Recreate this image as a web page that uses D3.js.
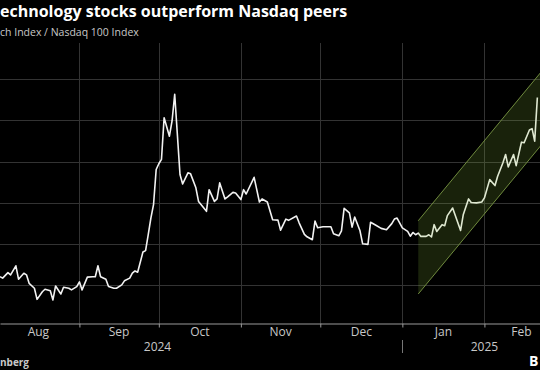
<!DOCTYPE html>
<html>
<head>
<meta charset="utf-8">
<script src="https://cdn.jsdelivr.net/npm/d3@7"></script>
<style>
  html, body { margin: 0; padding: 0; background: #000; }
  svg { display: block; }
</style>
</head>
<body>
<div id="chart"></div>
<script>
// text as it shows in the cropped picture
var title = "echnology stocks outperform Nasdaq peers";
var subtitle = "ch Index / Nasdaq 100 Index";
var source = "nberg";
var logo = "B";

// Hang Seng Tech / Nasdaq 100 ratio
var dates = [
  "2024-08-02","2024-08-03","2024-08-05","2024-08-06","2024-08-08","2024-08-09","2024-08-11","2024-08-12",
  "2024-08-13","2024-08-15","2024-08-16","2024-08-18","2024-08-19","2024-08-21","2024-08-22","2024-08-23",
  "2024-08-25","2024-08-26","2024-08-28","2024-08-29","2024-08-31","2024-09-01","2024-09-02","2024-09-04",
  "2024-09-06","2024-09-07","2024-09-08","2024-09-09","2024-09-11","2024-09-12","2024-09-14","2024-09-15",
  "2024-09-17","2024-09-18","2024-09-20","2024-09-21","2024-09-22","2024-09-23","2024-09-25","2024-09-26",
  "2024-09-27","2024-09-28","2024-09-29","2024-09-30","2024-10-01","2024-10-02","2024-10-03","2024-10-05",
  "2024-10-06","2024-10-07","2024-10-09","2024-10-10","2024-10-12","2024-10-13","2024-10-15","2024-10-16",
  "2024-10-19","2024-10-20","2024-10-22","2024-10-23","2024-10-24","2024-10-26","2024-10-27","2024-10-29",
  "2024-10-30","2024-11-01","2024-11-02","2024-11-03","2024-11-06","2024-11-08","2024-11-09","2024-11-11",
  "2024-11-13","2024-11-15","2024-11-16","2024-11-18","2024-11-19","2024-11-22","2024-11-23","2024-11-25",
  "2024-11-26","2024-11-28","2024-11-29","2024-11-30","2024-12-02","2024-12-05","2024-12-06","2024-12-08",
  "2024-12-09","2024-12-10","2024-12-12","2024-12-13","2024-12-14","2024-12-16","2024-12-17","2024-12-19",
  "2024-12-20","2024-12-22","2024-12-24","2024-12-26","2024-12-28","2024-12-29","2024-12-30","2025-01-01",
  "2025-01-03","2025-01-04","2025-01-05","2025-01-06","2025-01-07","2025-01-08","2025-01-10","2025-01-11",
  "2025-01-12","2025-01-13","2025-01-14","2025-01-16","2025-01-17","2025-01-18","2025-01-20","2025-01-22",
  "2025-01-23","2025-01-24","2025-01-26","2025-01-27","2025-01-29","2025-01-31","2025-02-01","2025-02-03",
  "2025-02-05","2025-02-06","2025-02-08","2025-02-09","2025-02-10","2025-02-12","2025-02-13","2025-02-15",
  "2025-02-16","2025-02-18","2025-02-19","2025-02-20","2025-02-21"
];
var ratio = [
  0.1640,0.1633,0.1660,0.1649,0.1693,0.1628,0.1657,0.1649,
  0.1608,0.1584,0.1530,0.1567,0.1579,0.1572,0.1527,0.1595,
  0.1556,0.1589,0.1584,0.1576,0.1592,0.1615,0.1576,0.1638,
  0.1640,0.1640,0.1693,0.1640,0.1628,0.1592,0.1584,0.1584,
  0.1600,0.1620,0.1633,0.1657,0.1668,0.1662,0.1760,0.1767,
  0.1844,0.1925,0.1990,0.2161,0.2189,0.2210,0.2413,0.2323,
  0.2397,0.2527,0.2137,0.2091,0.2145,0.2140,0.2072,0.2006,
  0.1958,0.2063,0.2006,0.2018,0.2096,0.2018,0.2028,0.2050,
  0.2047,0.2015,0.2063,0.2042,0.2123,0.2003,0.2018,0.2003,
  0.1917,0.1915,0.1866,0.1920,0.1914,0.1935,0.1902,0.1846,
  0.1834,0.1820,0.1910,0.1878,0.1883,0.1883,0.1849,0.1839,
  0.1863,0.1972,0.1950,0.1881,0.1930,0.1863,0.1800,0.1797,
  0.1905,0.1890,0.1875,0.1868,0.1898,0.1920,0.1925,0.1877,
  0.1860,0.1837,0.1855,0.1844,0.1852,0.1836,0.1836,0.1844,
  0.1833,0.1893,0.1860,0.1893,0.1888,0.1937,0.1974,0.1901,
  0.1865,0.1941,0.2018,0.2001,0.1999,0.2003,0.2023,0.2112,
  0.2083,0.2128,0.2194,0.2234,0.2174,0.2234,0.2180,0.2294,
  0.2291,0.2353,0.2360,0.2299,0.2511
];

// rising channel drawn over 2025
var channelDates = ["2025-01-07", "2025-02-28"];
var channelLow = [0.1556, 0.2366];
var channelHigh = [0.1912, 0.2722];

// axes
var monthLabels = ["Aug", "Sep", "Oct", "Nov", "Dec", "Jan", "Feb"];
var monthStarts = ["2024-08-01","2024-09-01","2024-10-01","2024-11-01","2024-12-01","2025-01-01","2025-02-01","2025-03-01"];
var yearLabels = ["2024", "2025"];
var yearBounds = ["2024-06-30", "2025-01-01", "2025-03-04"];
var gridValues = [0.16, 0.18, 0.20, 0.22, 0.24, 0.26];

var width = 540, height = 370;
var parse = d3.timeParse("%Y-%m-%d");
var fontFamily = "'Open Sans', Roboto, sans-serif";

var svg = d3.select("#chart").append("svg")
    .attr("width", width)
    .attr("height", height)
    .style("background", "#000");

var x = d3.scaleTime()
    .domain([parse("2024-08-02"), parse("2025-02-22")])
    .range([0, width]);
var y = d3.scaleLinear()
    .domain([0.1415, 0.2776])
    .range([323, 43]);

var series = dates.map(function (d, i) { return {date: parse(d), value: ratio[i]}; });
var channel = channelDates.map(function (d, i) { return {date: parse(d), lo: channelLow[i], hi: channelHigh[i]}; });
var starts = monthStarts.map(parse);

// grid
svg.append("g").selectAll("line")
    .data(gridValues).enter().append("line")
    .attr("x1", 0).attr("x2", width)
    .attr("y1", function (d) { return Math.round(y(d)) + 0.5; })
    .attr("y2", function (d) { return Math.round(y(d)) + 0.5; })
    .attr("stroke", "#333").attr("stroke-width", 1);

svg.append("g").selectAll("line")
    .data(starts.slice(0, -1)).enter().append("line")
    .attr("x1", function (d) { return Math.round(x(d)) + 0.5; })
    .attr("x2", function (d) { return Math.round(x(d)) + 0.5; })
    .attr("y1", 43).attr("y2", 323)
    .attr("stroke", "#333").attr("stroke-width", 1);

// x axis
var axis = svg.append("g")
    .attr("transform", "translate(0,323.5)")
    .call(d3.axisBottom(x).ticks(d3.timeMonth).tickSize(4).tickSizeOuter(0).tickFormat(""));
axis.select(".domain").attr("stroke", "#9a9a9a");
axis.selectAll(".tick line").attr("stroke", "#9a9a9a");

svg.append("g").selectAll("text")
    .data(monthLabels).enter().append("text")
    .attr("x", function (d, i) { return (x(starts[i]) + x(starts[i + 1])) / 2; })
    .attr("y", 336)
    .attr("text-anchor", "middle")
    .style("font", "12px " + fontFamily)
    .attr("fill", "#c8c8c8")
    .text(function (d) { return d; });

svg.append("g").selectAll("text")
    .data(yearLabels).enter().append("text")
    .attr("x", function (d, i) { return (x(parse(yearBounds[i])) + x(parse(yearBounds[i + 1]))) / 2; })
    .attr("y", 351)
    .attr("text-anchor", "middle")
    .style("font", "12px " + fontFamily)
    .attr("fill", "#c8c8c8")
    .text(function (d) { return d; });

svg.append("line")
    .attr("x1", Math.round(x(parse(yearBounds[1]))) + 0.5)
    .attr("x2", Math.round(x(parse(yearBounds[1]))) + 0.5)
    .attr("y1", 340).attr("y2", 353)
    .attr("stroke", "#777");

// the ratio line
var line = d3.line()
    .x(function (d) { return x(d.date); })
    .y(function (d) { return y(d.value); });

svg.append("path")
    .datum(series)
    .attr("d", line)
    .attr("fill", "none")
    .attr("stroke", "#f2f2f2")
    .attr("stroke-width", 1.6)
    .attr("stroke-linejoin", "round");

// channel on top, see-through
var area = d3.area()
    .x(function (d) { return x(d.date); })
    .y0(function (d) { return y(d.lo); })
    .y1(function (d) { return y(d.hi); });

svg.append("path")
    .datum(channel)
    .attr("d", area)
    .attr("fill", "rgba(140,190,60,0.18)");

["lo", "hi"].forEach(function (k) {
    svg.append("path")
        .datum(channel)
        .attr("d", d3.line().x(function (d) { return x(d.date); }).y(function (d) { return y(d[k]); }))
        .attr("fill", "none")
        .attr("stroke", "#6f8a3e")
        .attr("stroke-width", 1);
});

// titles and footer
svg.append("text")
    .attr("x", 0)
    .attr("y", 17)
    .style("font", "bold 16px " + fontFamily)
    .attr("fill", "#fff")
    .text(title);

svg.append("text")
    .attr("x", 0)
    .attr("y", 36)
    .style("font", "10.5px " + fontFamily)
    .attr("fill", "#c8c8c8")
    .text(subtitle);

svg.append("text")
    .attr("x", 0)
    .attr("y", 366)
    .style("font", "bold 10px " + fontFamily)
    .attr("fill", "#c8c8c8")
    .text(source);

svg.append("text")
    .attr("x", 529)
    .attr("y", 366)
    .style("font", "bold 14px " + fontFamily)
    .attr("fill", "#fff")
    .text(logo);
</script>
</body>
</html>
